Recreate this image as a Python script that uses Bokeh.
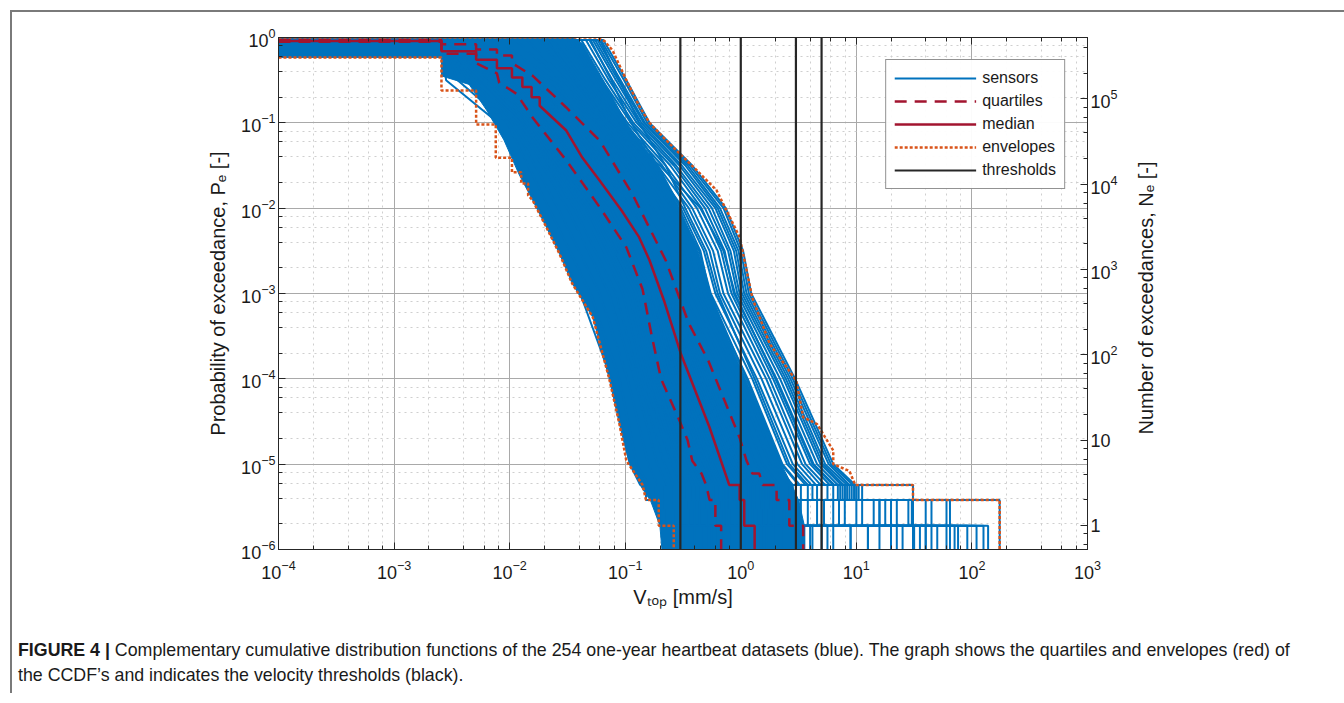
import math
from bokeh.plotting import figure
from bokeh.layouts import column, row
from bokeh.models import (Range1d, LogAxis, LogTicker, LogScale, Legend, LegendItem, ColumnDataSource, Div)
from bokeh.embed import file_html
from bokeh.resources import INLINE

# ---------------------------------------------------------------- data
X_RANGE = (1e-4, 1e3)          # V_top [mm/s]
P_RANGE = (1e-6, 1.0)          # probability of exceedance
N_TOTAL = 525600               # samples per sensor-year: N_e = P_e * N_TOTAL
THRESHOLDS = [0.3, 1.0, 3.0, 5.0]

LOG_P_N3 = math.log10(3 / N_TOTAL)
LOG_P_N2 = math.log10(2 / N_TOTAL)
LOG_P_N1 = math.log10(1 / N_TOTAL)
LOG_P_FLOOR = -7.0             # P -> 0 (below the axis)
LOG_V_START = -4.0

# sensors of the lower three quartiles: log10 V where each CCDF crosses these log10 P levels,
# then log10 V at N=3, end of N=3, end of N=2, end of N=1 (maximum)
SENSOR_LEVELS = [-0.03, -0.5, -1, -2, -3, -4, -5]
SENSOR_LOGV = [
    [-2.59, -2.55, -2.10, -1.75, -1.39, -1.12, -0.96, -0.87, -0.82, -0.70, -0.60],
    [-2.59, -2.45, -2.02, -1.66, -1.30, -1.05, -0.90, -0.80, -0.74, -0.66, -0.52],
    [-2.59, -2.38, -1.98, -1.58, -1.22, -0.98, -0.80, -0.72, -0.66, -0.58, -0.48],
    [-2.59, -2.33, -1.94, -1.50, -1.14, -0.92, -0.72, -0.64, -0.60, -0.52, -0.40],
    [-2.59, -2.28, -1.91, -1.44, -1.08, -0.88, -0.66, -0.58, -0.52, -0.45, -0.30],
    [-2.59, -2.24, -1.88, -1.39, -1.02, -0.84, -0.60, -0.52, -0.47, -0.40, -0.34],
    [-2.59, -2.20, -1.86, -1.34, -0.97, -0.80, -0.55, -0.48, -0.42, -0.36, -0.25],
    [-2.59, -2.17, -1.84, -1.30, -0.93, -0.76, -0.51, -0.44, -0.38, -0.30, -0.20],
    [-2.59, -2.15, -1.82, -1.27, -0.90, -0.73, -0.48, -0.40, -0.35, -0.28, -0.10],
    [-2.59, -2.13, -1.80, -1.24, -0.88, -0.71, -0.45, -0.36, -0.30, -0.22, -0.15],
    [-2.59, -2.11, -1.77, -1.21, -0.85, -0.69, -0.42, -0.32, -0.27, -0.17, -0.05],
    [-2.59, -2.09, -1.75, -1.20, -0.84, -0.67, -0.40, -0.30, -0.24, -0.15, 0.05],
    [-2.59, -2.07, -1.73, -1.18, -0.82, -0.65, -0.37, -0.28, -0.22, -0.12, -0.02],
    [-2.59, -2.05, -1.72, -1.17, -0.80, -0.62, -0.34, -0.25, -0.18, -0.10, 0.10],
    [-2.59, -2.03, -1.70, -1.15, -0.79, -0.60, -0.32, -0.22, -0.15, -0.05, 0.02],
    [-2.59, -2.01, -1.68, -1.13, -0.77, -0.57, -0.29, -0.20, -0.12, -0.02, 0.18],
    [-2.59, -1.99, -1.66, -1.12, -0.76, -0.55, -0.27, -0.18, -0.10, 0.00, 0.08],
    [-2.59, -1.97, -1.65, -1.10, -0.74, -0.53, -0.24, -0.15, -0.06, 0.04, 0.30],
    [-2.59, -1.95, -1.63, -1.09, -0.72, -0.51, -0.22, -0.13, -0.04, 0.06, 0.15],
    [-2.59, -1.93, -1.61, -1.07, -0.71, -0.49, -0.19, -0.11, -0.02, 0.10, 0.45],
    [-2.59, -1.92, -1.60, -1.06, -0.70, -0.47, -0.17, -0.09, 0.00, 0.12, 0.22],
    [-2.59, -1.90, -1.58, -1.05, -0.68, -0.45, -0.15, -0.08, 0.02, 0.14, 0.60],
    [-2.59, -1.89, -1.56, -1.03, -0.67, -0.43, -0.13, -0.05, 0.05, 0.18, 0.35],
    [-2.59, -1.87, -1.55, -1.01, -0.66, -0.41, -0.11, -0.02, 0.08, 0.20, 0.75],
    [-2.59, -1.86, -1.53, -0.99, -0.65, -0.39, -0.09, 0.00, 0.10, 0.24, 0.40],
    [-2.59, -1.84, -1.51, -0.97, -0.63, -0.37, -0.07, 0.03, 0.14, 0.28, 0.95],
    [-2.59, -1.83, -1.49, -0.95, -0.62, -0.35, -0.05, 0.05, 0.17, 0.30, 0.48],
    [-2.59, -1.82, -1.48, -0.93, -0.61, -0.33, -0.03, 0.08, 0.20, 0.35, 1.10],
    [-2.59, -1.80, -1.46, -0.92, -0.60, -0.31, -0.01, 0.11, 0.22, 0.38, 0.55],
    [-2.59, -1.79, -1.45, -0.90, -0.59, -0.29, 0.01, 0.13, 0.26, 0.42, 1.30],
    [-2.59, -1.78, -1.43, -0.88, -0.58, -0.27, 0.02, 0.15, 0.28, 0.46, 0.62],
    [-2.59, -1.76, -1.42, -0.87, -0.56, -0.24, 0.04, 0.17, 0.31, 0.50, 1.60],
    [-2.59, -1.75, -1.40, -0.85, -0.55, -0.22, 0.06, 0.19, 0.34, 0.52, 0.70],
]

# sensors of the upper quartile (the fringe towards the upper envelope)
FRINGE_LEVELS = [-0.03, -0.5, -1, -1.5, -2, -2.5, -3, -4, -5]
FRINGE_LOGV = [
    [-2.30, -1.68, -1.32, -1.06, -0.82, -0.61, -0.49, -0.15, 0.13, 0.27, 0.40, 0.58, 0.80],
    [-2.10, -1.62, -1.27, -1.00, -0.76, -0.55, -0.43, -0.10, 0.19, 0.33, 0.45, 0.66, 1.20],
    [-1.95, -1.56, -1.23, -0.95, -0.70, -0.50, -0.38, -0.04, 0.25, 0.40, 0.52, 0.72, 0.95],
    [-1.85, -1.51, -1.19, -0.90, -0.65, -0.45, -0.34, 0.01, 0.30, 0.45, 0.58, 0.80, 1.85],
    [-1.75, -1.45, -1.14, -0.85, -0.59, -0.40, -0.29, 0.06, 0.36, 0.51, 0.66, 0.90, 1.40],
    [-1.68, -1.41, -1.11, -0.80, -0.55, -0.36, -0.26, 0.10, 0.40, 0.56, 0.75, 1.05, 2.14],
    [-1.62, -1.36, -1.07, -0.76, -0.50, -0.32, -0.22, 0.14, 0.45, 0.61, 0.84, 1.20, 1.55],
    [-1.56, -1.31, -1.04, -0.72, -0.45, -0.27, -0.18, 0.18, 0.49, 0.65, 0.90, 1.30, 1.96],
    [-1.50, -1.28, -1.01, -0.68, -0.42, -0.24, -0.15, 0.22, 0.53, 0.69, 0.86, 1.81, 1.81],
    [-1.46, -1.24, -0.98, -0.65, -0.38, -0.20, -0.11, 0.25, 0.56, 0.73, 0.88, 1.15, 1.50],
    [-1.42, -1.20, -0.95, -0.61, -0.34, -0.17, -0.08, 0.28, 0.60, 0.77, 0.90, 1.48, 2.04],
    [-1.38, -1.17, -0.93, -0.58, -0.31, -0.14, -0.06, 0.31, 0.63, 0.81, 0.92, 1.25, 1.70],
    [-1.34, -1.14, -0.90, -0.56, -0.28, -0.11, -0.03, 0.34, 0.66, 0.84, 0.94, 1.35, 1.35],
    [-1.31, -1.11, -0.88, -0.53, -0.25, -0.09, -0.01, 0.37, 0.69, 0.87, 0.96, 1.45, 1.88],
    [-1.28, -1.08, -0.86, -0.51, -0.22, -0.06, 0.01, 0.39, 0.71, 0.89, 0.98, 1.49, 1.49],
    [-1.26, -1.06, -0.84, -0.48, -0.20, -0.04, 0.03, 0.41, 0.73, 0.92, 1.00, 1.60, 2.10],
    [-1.24, -1.04, -0.83, -0.46, -0.18, -0.02, 0.05, 0.43, 0.76, 0.94, 1.02, 1.78, 1.78],
    [-1.21, -1.01, -0.81, -0.44, -0.15, 0.00, 0.07, 0.45, 0.78, 0.97, 1.05, 1.65, 1.65],
    [-1.19, -0.99, -0.79, -0.42, -0.13, 0.02, 0.09, 0.47, 0.80, 0.99, 1.49, 2.24, 2.24],
    [-1.22, -1.05, -0.88, -0.65, -0.48, -0.30, -0.20, 0.12, 0.42, 0.58, 0.80, 1.00, 1.30],
    [-1.30, -1.12, -0.95, -0.72, -0.52, -0.35, -0.27, 0.05, 0.35, 0.50, 0.62, 0.85, 1.10],
    [-1.65, -1.45, -1.15, -0.70, -0.35, -0.15, -0.05, 0.30, 0.62, 0.80, 1.00, 1.20, 1.60],
]

# dense core of the 254 sensor curves (log10 V, log10 P)
CORE_RIGHT_LOGV = [-4.0, -1.45, -1.37, -1.19, -0.99, -0.72, -0.53, -0.37, -0.26, -0.12, 0.04, 0.20, 0.35, 0.44, 0.50, 0.55, 0.55]
CORE_RIGHT_LOGP = [0.0, 0.0, -0.07, -0.5, -1.0, -1.5, -2.0, -2.5, -3.0, -3.5, -4.0, -4.5, -5.0, -5.24, -5.42, -5.72, -7.0]
CORE_LEFT_LOGV = [-4.0, -2.59, -2.59, -2.35, -2.20, -2.05, -1.92, -1.80, -1.68, -1.57, -1.46, -1.28, -1.14, -1.05, -0.97, -0.86, -0.78, -0.70, -0.62]
CORE_LEFT_LOGP = [-0.234, -0.234, -0.45, -0.55, -0.85, -1.2, -1.6, -1.91, -2.23, -2.53, -2.88, -3.28, -3.99, -4.53, -4.96, -5.27, -5.43, -5.72, -7.0]

MEDIAN_LOGV = [-4.0, -2.59, -2.59, -2.29, -2.29, -2.11, -2.11, -1.98, -1.98, -1.89, -1.89, -1.81, -1.81, -1.74, -1.74,
               -1.51, -1.37, -1.22, -1.03, -0.88, -0.79, -0.66, -0.52, -0.27, -0.10, -0.01, -0.01, 0.03, 0.03, 0.12, 0.12]
MEDIAN_LOGP = [-0.04, -0.04, -0.16, -0.16, -0.26, -0.26, -0.36, -0.36, -0.47, -0.47, -0.58, -0.58, -0.70, -0.70, -0.80,
               -1.09, -1.41, -1.68, -2.03, -2.34, -2.61, -3.10, -3.70, -4.57, LOG_P_N3, LOG_P_N3, LOG_P_N2, LOG_P_N2,
               LOG_P_N1, LOG_P_N1, LOG_P_FLOOR]

UPPER_Q_LOGV = [-4.0, -2.59, -2.59, -2.29, -2.29, -2.11, -2.11, -1.98, -1.98, -1.80, -1.51, -1.22, -0.94, -0.65, -0.45,
                -0.28, -0.13, -0.01, 0.05, 0.10, 0.16, 0.19, 0.31, 0.31, 0.42, 0.42, 0.54, 0.54]
UPPER_Q_LOGP = [-0.03, -0.03, -0.08, -0.08, -0.14, -0.14, -0.21, -0.21, -0.30, -0.45, -0.82, -1.21, -1.83, -2.61, -3.35,
                -3.79, -4.29, -4.69, -4.96, -5.11, -5.11, LOG_P_N3, LOG_P_N3, LOG_P_N2, LOG_P_N2, LOG_P_N1, LOG_P_N1,
                LOG_P_FLOOR]

LOWER_Q_LOGV = [-4.0, -2.59, -2.59, -2.29, -2.29, -2.11, -2.09, -1.94, -1.80, -1.51, -1.22, -0.99, -0.85, -0.77, -0.69,
                -0.53, -0.46, -0.42, -0.34, -0.30, -0.27, -0.22, -0.22, -0.17, -0.17]
LOWER_Q_LOGP = [-0.05, -0.05, -0.19, -0.19, -0.30, -0.42, -0.53, -0.66, -0.94, -1.44, -1.99, -2.46, -2.95, -3.50, -4.00,
                -4.49, -4.72, -4.96, -5.11, LOG_P_N3, LOG_P_N2, LOG_P_N2, LOG_P_N1, LOG_P_N1, LOG_P_FLOOR]

UPPER_ENV_LOGV = [-4.0, -1.25, -1.18, -1.11, -0.99, -0.88, -0.79, -0.67, -0.53, -0.40, -0.21, -0.01, 0.10, 0.25, 0.48,
                  0.54, 0.66, 0.80, 0.80, 0.94, 0.99, 1.49, 1.49, 2.24, 2.24]
UPPER_ENV_LOGP = [0.0, 0.0, -0.04, -0.15, -0.50, -0.80, -1.00, -1.17, -1.36, -1.53, -1.79, -2.34, -3.05, -3.59, -4.02,
                  -4.45, -4.53, -4.84, -5.00, -5.08, LOG_P_N3, LOG_P_N3, LOG_P_N2, LOG_P_N2, LOG_P_FLOOR]

LOWER_ENV_LOGV = [-4.0, -2.59, -2.59, -2.29, -2.29, -2.12, -2.12, -1.98, -1.98, -1.90, -1.90, -1.84, -1.84, -1.80, -1.68,
                  -1.57, -1.46, -1.28, -1.14, -1.05, -0.99, -0.85, -0.82, -0.71, -0.71, -0.58, -0.58]
LOWER_ENV_LOGP = [-0.234, -0.234, -0.62, -0.62, -1.02, -1.02, -1.41, -1.41, -1.58, -1.58, -1.71, -1.71, -1.85, -1.91,
                  -2.23, -2.53, -2.88, -3.28, -3.99, -4.53, -4.96, LOG_P_N3, LOG_P_N2, LOG_P_N2, LOG_P_N1, LOG_P_N1,
                  LOG_P_FLOOR]

LEGEND_LABELS = ["sensors", "quartiles", "median", "envelopes", "thresholds"]
X_TITLE = "V\u209c\u2092\u209a [mm/s]"
Y_TITLE = "Probability of exceedance, P\u2091 [-]"
Y2_TITLE = "Number of exceedances, N\u2091 [-]"
CAPTION_HEAD = "FIGURE 4 |"
CAPTION_LINE1 = ("Complementary cumulative distribution functions of the 254 one-year heartbeat datasets (blue). "
                 "The graph shows the quartiles and envelopes (red) of")
CAPTION_LINE2 = "the CCDF\u2019s and indicates the velocity thresholds (black)."

# ---------------------------------------------------------------- styles
BLUE = "#0072BD"
DARK_RED = "#A2142F"
ORANGE = "#D95319"
INK = "#262626"
FONT = "Liberation Sans"

PAGE_W = 1344
OFF = 12                                 # wrapper margin + border
FL, FR, FT, FB = 278, 1087, 37, 549      # frame edges on the page
RIGHT_PAD = 45                           # room for the N_e tick labels
FIG_W, FIG_H = (FR - OFF) + RIGHT_PAD, 611
SIDE_W = PAGE_W - OFF - FIG_W

def lin(vals):
    return [10.0 ** v for v in vals]

p = figure(width=FIG_W, height=FIG_H, x_axis_type="log", y_axis_type="log",
           x_range=Range1d(*X_RANGE), y_range=Range1d(*P_RANGE),
           output_backend="svg", toolbar_location=None,
           min_border_left=FL - OFF, min_border_right=RIGHT_PAD,
           min_border_top=FT - OFF, min_border_bottom=FIG_H - (FB - OFF))
p.background_fill_color = "white"
p.border_fill_color = "white"
p.outline_line_color = INK
p.outline_line_width = 1

def style_axis(ax, labels=True):
    ax.major_tick_in = 7
    ax.major_tick_out = 0
    ax.minor_tick_in = 4
    ax.minor_tick_out = 0
    ax.axis_line_color = INK
    ax.major_tick_line_color = INK
    ax.minor_tick_line_color = INK
    ax.major_label_text_font = FONT
    ax.major_label_text_font_size = "18px"
    ax.major_label_text_color = "#1a1a1a"
    if not labels:
        ax.major_label_text_alpha = 0.0
    ax.major_label_standoff = 3
    ax.axis_label_text_font = FONT
    ax.axis_label_text_font_size = "20px"
    ax.axis_label_text_font_style = "normal"
    ax.axis_label_text_color = "#1a1a1a"

p.xaxis.ticker = LogTicker(desired_num_ticks=10)
p.yaxis.ticker = LogTicker(desired_num_ticks=8)
style_axis(p.xaxis[0])
style_axis(p.yaxis[0])
p.xaxis[0].major_label_standoff = 10
p.xaxis[0].axis_label = X_TITLE
p.xaxis[0].axis_label_standoff = 4
p.yaxis[0].axis_label = Y_TITLE
p.yaxis[0].axis_label_standoff = 9

top_axis = LogAxis(ticker=LogTicker(desired_num_ticks=10))
style_axis(top_axis, labels=False)
p.add_layout(top_axis, "above")

p.extra_y_ranges = {"ne": Range1d(P_RANGE[0] * N_TOTAL, P_RANGE[1] * N_TOTAL)}
p.extra_y_scales = {"ne": LogScale()}
right_axis = LogAxis(y_range_name="ne", ticker=LogTicker(desired_num_ticks=8),
                     major_label_overrides={10.0: "10", 1.0: "1"})
style_axis(right_axis)
p.add_layout(right_axis, "right")

for g in (p.xgrid[0], p.ygrid[0]):
    g.grid_line_color = "#a9a9a9"
    g.grid_line_width = 1
    g.minor_grid_line_color = "#cfcfcf"
    g.minor_grid_line_dash = "dotted"

# ---------------------------------------------------------------- glyphs
core_x = lin(CORE_RIGHT_LOGV + CORE_LEFT_LOGV[::-1])
core_y = lin(CORE_RIGHT_LOGP + CORE_LEFT_LOGP[::-1])
p.patch(core_x, core_y, fill_color=BLUE, line_color=BLUE, line_width=1)

tail_p = [LOG_P_N3, LOG_P_N3, LOG_P_N2, LOG_P_N2, LOG_P_N1, LOG_P_N1, LOG_P_FLOOR]
sx, sy = [], []
for levels, table in ((SENSOR_LEVELS, SENSOR_LOGV), (FRINGE_LEVELS, FRINGE_LOGV)):
    n = len(levels)
    for r in table:
        v_n3, e3, e2, e1 = r[n:]
        xs = [LOG_V_START] + r[:n] + [v_n3, e3, e3, e2, e2, e1, e1]
        ys = [levels[0]] + levels + tail_p
        sx.append(lin(xs))
        sy.append(lin(ys))
r_sensors = p.multi_line(xs="xs", ys="ys", source=ColumnDataSource(dict(xs=sx, ys=sy)),
                         line_color=BLUE, line_width=2.0)

r_quart = p.multi_line(xs=[lin(LOWER_Q_LOGV), lin(UPPER_Q_LOGV)], ys=[lin(LOWER_Q_LOGP), lin(UPPER_Q_LOGP)],
                       line_color=DARK_RED, line_width=2.5, line_dash="12 8")
r_median = p.line(lin(MEDIAN_LOGV), lin(MEDIAN_LOGP), line_color=DARK_RED, line_width=2.5)
r_env = p.multi_line(xs=[lin(LOWER_ENV_LOGV), lin(UPPER_ENV_LOGV)], ys=[lin(LOWER_ENV_LOGP), lin(UPPER_ENV_LOGP)],
                     line_color=ORANGE, line_width=2.5, line_dash="3 2")
r_thr = p.segment(x0=THRESHOLDS, y0=[P_RANGE[0]] * len(THRESHOLDS), x1=THRESHOLDS, y1=[P_RANGE[1]] * len(THRESHOLDS),
                  line_color=INK, line_width=2.2)

legend = Legend(items=[LegendItem(label=l, renderers=[rr]) for l, rr in
                       zip(LEGEND_LABELS, [r_sensors, r_quart, r_median, r_env, r_thr])],
                location="top_right", margin=22, padding=8, spacing=3, glyph_width=82, label_standoff=6,
                label_text_font=FONT, label_text_font_size="16px", label_text_color="#1a1a1a",
                border_line_color=INK, border_line_width=1)
p.add_layout(legend)

# right-hand title, reading bottom-to-top like the reference
y2_center_x = 1141 - (OFF + FIG_W)
y2_center_y = (FT + FB) / 2 - OFF
side = Div(text=(f'<div style="position:absolute;left:{y2_center_x}px;top:{y2_center_y}px;'
                 f'transform:translate(-50%,-50%) rotate(-90deg);white-space:nowrap;'
                 f'font-family:{FONT};font-size:20px;line-height:22px;color:#1a1a1a">{Y2_TITLE}</div>'),
           width=SIDE_W, height=FIG_H, styles={"overflow": "visible"})

caption = Div(text=f"<b>{CAPTION_HEAD}</b> {CAPTION_LINE1}<br>{CAPTION_LINE2}", width=PAGE_W - OFF - 10,
              styles={"font-family": FONT, "font-size": "17.8px", "line-height": "25px", "color": "#1a1a1a",
                      "padding-top": "0px", "padding-left": "1px", "white-space": "nowrap"})

page = column(row(p, side), caption,
              styles={"margin-left": "10px", "margin-top": "10px",
                      "border-left": "2px solid #7a7a7a", "border-top": "2px solid #7a7a7a"})

open("out.html", "w").write(file_html(page, INLINE))
